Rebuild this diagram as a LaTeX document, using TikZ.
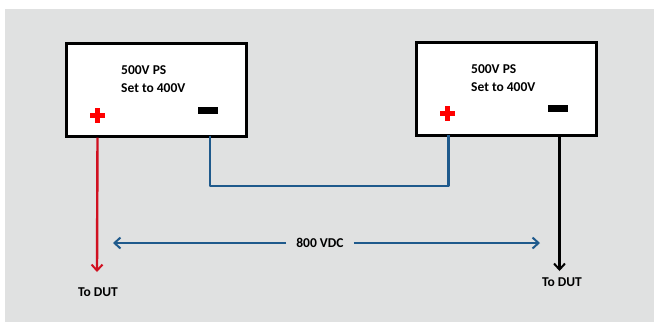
\documentclass[tikz,border=0pt]{standalone}
\usepackage{fontspec}
\setmainfont{Carlito}
\usetikzlibrary{arrows.meta}
\definecolor{bg}{HTML}{E0E1E1}
\definecolor{wireblue}{HTML}{1F5A8C}
\definecolor{wirered}{HTML}{D01020}
\tikzset{
  psbox/.style={draw=black,line width=2.6pt,fill=white,minimum width=180pt,minimum height=93pt,inner sep=0pt},
  lbl/.style={font=\bfseries\fontsize{13.5}{16.5}\selectfont,inner sep=0pt,align=left},
  wire/.style={line width=2.4pt},
  tip/.style={-{Straight Barb[length=6pt,width=11pt,line width=2pt]}},
}
\begin{document}
\begin{tikzpicture}[x=1pt,y=-1pt]
\useasboundingbox (0,0) rectangle (654,322);
\fill[white] (0,0) rectangle (654,322);
\fill[bg] (5,9) rectangle (654,322);
% boxes
\node[psbox,anchor=north west] (ps1) at (65,42) {};
\node[psbox,anchor=north west] (ps2) at (415,41) {};
\node[lbl,anchor=west] (t1) at (121,79) {500V PS\\[1pt]Set to 400V};
\node[lbl,anchor=west] (t2) at (471,78) {500V PS\\[1pt]Set to 400V};
% plus signs
\node[fill=red,minimum width=15pt,minimum height=5pt,inner sep=0pt] (p1) at (97.5,115.5) {};
\node[fill=red,minimum width=5pt,minimum height=15pt,inner sep=0pt] at (p1) {};
\node[fill=red,minimum width=15pt,minimum height=5pt,inner sep=0pt] (p2) at (447.5,113) {};
\node[fill=red,minimum width=5pt,minimum height=15pt,inner sep=0pt] at (p2) {};
% minus signs
\node[fill=black,minimum width=20pt,minimum height=7pt,inner sep=0pt] (m1) at (208,110) {};
\node[fill=black,minimum width=20pt,minimum height=7pt,inner sep=0pt] (m2) at (558,108) {};
% connectors
\coordinate (r0) at (ps1.south -| p1);
\coordinate (r1) at (97,272);
\draw[wire,wirered,tip] (r0) -- (r1);
\node[lbl,anchor=center] (d1) at (98,292) {To DUT};
\coordinate (b0) at (210,135.5);
\coordinate (b1) at (448.5,134.5);
\draw[wire,wireblue,line join=round] (b0) -- (210,186) -- (448.5,186) -- (b1);
\coordinate (k0) at (559.5,134.5);
\coordinate (k1) at (559.5,271);
\draw[wire,black,tip] (k0) -- (k1);
\node[lbl,anchor=center] (d2) at (562,282) {To DUT};
\node[lbl,anchor=center] (v) at (320,243) {800 VDC};
\coordinate (a0) at (113,243);
\coordinate (a1) at (540,243);
\draw[wire,wireblue,tip] ([xshift=-10pt]v.west) -- (a0);
\draw[wire,wireblue,tip] ([xshift=10pt]v.east) -- (a1);
\end{tikzpicture}
\end{document}
